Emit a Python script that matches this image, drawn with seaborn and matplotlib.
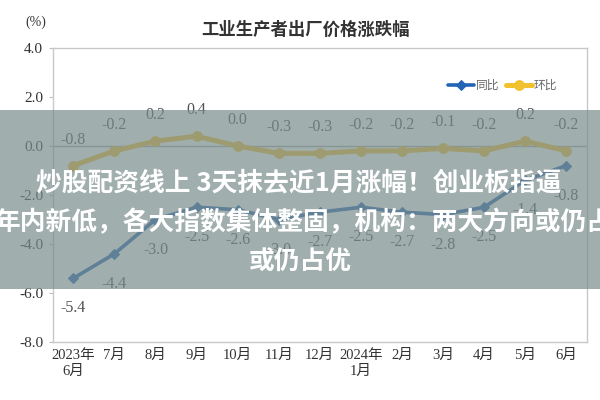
import matplotlib
matplotlib.use("Agg")
import matplotlib.pyplot as plt
from matplotlib.patches import Rectangle
import seaborn as sns
import pandas as pd

months = ["2023年\n6月", "7月", "8月", "9月", "10月", "11月", "12月",
          "2024年\n1月", "2月", "3月", "4月", "5月", "6月"]
yoy = [-5.4, -4.4, -3.0, -2.5, -2.6, -3.0, -2.7, -2.5, -2.7, -2.8, -2.5, -1.4, -0.8]
mom = [-0.8, -0.2, 0.2, 0.4, 0.0, -0.3, -0.3, -0.2, -0.2, -0.1, -0.2, 0.2, -0.2]
yticks = [-8.0, -6.0, -4.0, -2.0, 0.0, 2.0, 4.0]
title = "工业生产者出厂价格涨跌幅"
overlay_lines = ["炒股配资线上 3天抹去近1月涨幅！创业板指逼",
                 "年内新低，各大指数集体整固，机构：两大方向或仍占",
                 "或仍占优"]

sns.set_style("white")
plt.rcParams['font.family'] = ['Liberation Serif', 'Noto Sans CJK SC', 'DejaVu Sans']

blue = "#2364b4"
yellow = "#f2c12e"

idx = list(range(len(months)))
df = pd.DataFrame({"idx": idx * 2,
                   "value": yoy + mom,
                   "series": ["同比"] * len(idx) + ["环比"] * len(idx)})

fig = plt.figure(figsize=(6, 4), dpi=100)
ax = fig.add_axes([0.088, 0.145, 0.89, 0.735])

ax.axhline(0, color="#a8a8a8", lw=1, zorder=1)

sns.lineplot(data=df[df.series == "同比"], x="idx", y="value", ax=ax,
             color=blue, lw=2.6, marker="D", markersize=5, markeredgecolor=blue,
             label="同比", zorder=3)
sns.lineplot(data=df[df.series == "环比"], x="idx", y="value", ax=ax,
             color=yellow, lw=3.6, marker="o", markersize=7, markeredgecolor=yellow,
             label="环比", zorder=3)

for i, v in zip(idx, mom):
    ax.annotate(f"{v:.1f}", (i, v), xytext=(0, 26), textcoords="offset pixels",
                ha="center", va="center", fontsize=11.5, color="#505050",
                family=['Liberation Serif'])
for i, v in zip(idx, yoy):
    ax.annotate(f"{v:.1f}", (i, v), xytext=(0, -30), textcoords="offset pixels",
                ha="center", va="center", fontsize=11.5, color="#505050",
                family=['Liberation Serif'])

ax.set_xlim(-0.5, len(months) - 0.5)
ax.set_ylim(-8, 4)
ax.set_yticks(yticks)
ax.set_yticklabels([f"{t:.1f}" for t in yticks], fontsize=11, color="#333333")
ax.set_xticks(idx)
ax.set_xticklabels(months, fontsize=10.5, color="#333333", linespacing=1.3)
ax.set_xlabel("")
ax.set_ylabel("")
ax.tick_params(axis="y", length=3, color="#c0c0c0", pad=4, direction="out", left=True)
ax.tick_params(axis="x", length=0, pad=5)
for s in ax.spines.values():
    s.set_color("#c8c8c8")
    s.set_linewidth(1)

leg = ax.legend(loc="upper right", bbox_to_anchor=(0.965, 0.93), ncol=2, frameon=False,
                handlelength=2.2, columnspacing=0.5, handletextpad=0.2,
                prop={'family': ['Noto Sans CJK SC'], 'size': 8.5})
for t in leg.get_texts():
    t.set_color("#666666")

fig.text(0.06, 0.945, "(%)", fontsize=10, color="#333333", ha="center", va="center")
fig.text(0.51, 0.925, title, fontsize=12.5, color="#333333", ha="center", va="center",
         family=['Noto Sans CJK SC'], fontweight="bold")

# overlay banner
fig.patches.append(Rectangle((0, 0.2775), 1, 0.4475, transform=fig.transFigure,
                             facecolor="#7a8c8c", alpha=0.7, zorder=10, edgecolor="none"))
ys = [0.5425, 0.4425, 0.345]
xs = [0.498, 0.505, 0.5]
for txt, x, y in zip(overlay_lines, xs, ys):
    fig.text(x, y, txt, fontsize=18.5, color="white", ha="center", va="center",
             family=['Noto Sans CJK SC'], fontweight="bold", zorder=11)

fig.savefig("out.png", dpi=100)
